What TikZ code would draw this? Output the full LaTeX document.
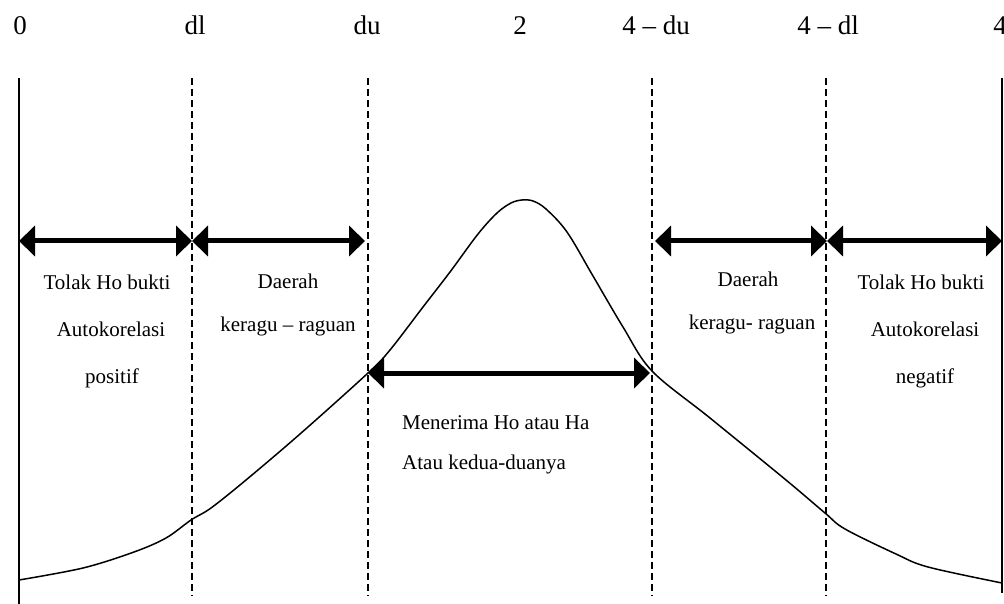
\documentclass[tikz,border=0pt]{standalone}
\usepackage{fontspec}
\setmainfont{Liberation Serif}
\usetikzlibrary{arrows.meta}
\begin{document}
\begin{tikzpicture}[x=1pt,y=-1pt,
  bound/.style={line width=1.4pt},
  divider/.style={line width=1.3pt, dash pattern=on 7pt off 4pt},
  span/.style={line width=5pt,
    {Triangle[length=16pt,width=30pt]}-{Triangle[length=16pt,width=30pt]}},
  curve/.style={line width=1.5pt, line join=round},
  tick/.style={font=\fontsize{27}{32}\selectfont, anchor=base, inner sep=0pt},
  zone/.style={font=\fontsize{21}{25}\selectfont, anchor=base, inner sep=0pt},
  ]
\useasboundingbox (0,0) rectangle (1004,604);

% scale values along the top
\node[tick] (t0)  at (20,35)  {0};
\node[tick] (tdl) at (195,35) {dl};
\node[tick] (tdu) at (367,35) {du};
\node[tick] (t2)  at (520,35) {2};
\node[tick] (tud) at (656,35) {4 – du};
\node[tick] (tld) at (828,35) {4 – dl};
\node[tick] (t4)  at (1000,35) {4};

% outer bounds and critical values
\coordinate (a0) at (19,78);   \coordinate (b0) at (19,604);
\coordinate (a1) at (192,78);  \coordinate (b1) at (192,596);
\coordinate (a2) at (368,78);  \coordinate (b2) at (368,596);
\coordinate (a3) at (652,78);  \coordinate (b3) at (652,596);
\coordinate (a4) at (826,78);  \coordinate (b4) at (826,596);
\coordinate (a5) at (1002,78); \coordinate (b5) at (1002,593);
\draw[bound] (a0) -- (b0);
\draw[bound] (a5) -- (b5);
\draw[divider] (a1) -- (b1);
\draw[divider] (a2) -- (b2);
\draw[divider] (a3) -- (b3);
\draw[divider] (a4) -- (b4);

% region arrows
\coordinate (r0) at (19,241);
\coordinate (r1) at (192,241);
\coordinate (r2) at (365,241);
\coordinate (r3) at (655,241);
\coordinate (r4) at (827,241);
\coordinate (r5) at (1002,241);
\draw[span] (r0) -- (r1);
\draw[span] (r1) -- (r2);
\draw[span] (r3) -- (r4);
\draw[span] (r4) -- (r5);
\coordinate (m0) at (368,373);
\coordinate (m1) at (650,373);
\draw[span] (m0) -- (m1);

% distribution curve
\draw[curve] plot[smooth, tension=0.55] coordinates {
  (19,580) (83,568) (134,552) (166,538) (191,520) (211,508) (246,480)
  (300,434) (368,373) (390,350) (423,307) (450,272) (478,234) (497,213)
  (511,203) (522,200) (533,201) (546,209) (567,232) (593,276) (623,327)
  (652,371) (710,418) (786,480) (825,513) (845,529) (896,554) (928,567)
  (1002,583)};

% region descriptions
\node[zone] (l1) at (107,289) {Tolak Ho bukti};
\node[zone] (l2) at (111,336) {Autokorelasi};
\node[zone] (l3) at (112,383) {positif};
\node[zone] (d1) at (288,288) {Daerah};
\node[zone] (d2) at (288,331) {keragu – raguan};
\node[zone] (e1) at (748,287) {Daerah};
\node[zone] (e2) at (752,329) {keragu- raguan};
\node[zone] (n1) at (921,289) {Tolak Ho bukti};
\node[zone] (n2) at (925,336) {Autokorelasi};
\node[zone] (n3) at (925,383) {negatif};
\node[zone, anchor=base west] (c1) at (402,429) {Menerima Ho atau Ha};
\node[zone, anchor=base west] (c2) at (402,469) {Atau kedua-duanya};
\end{tikzpicture}
\end{document}
